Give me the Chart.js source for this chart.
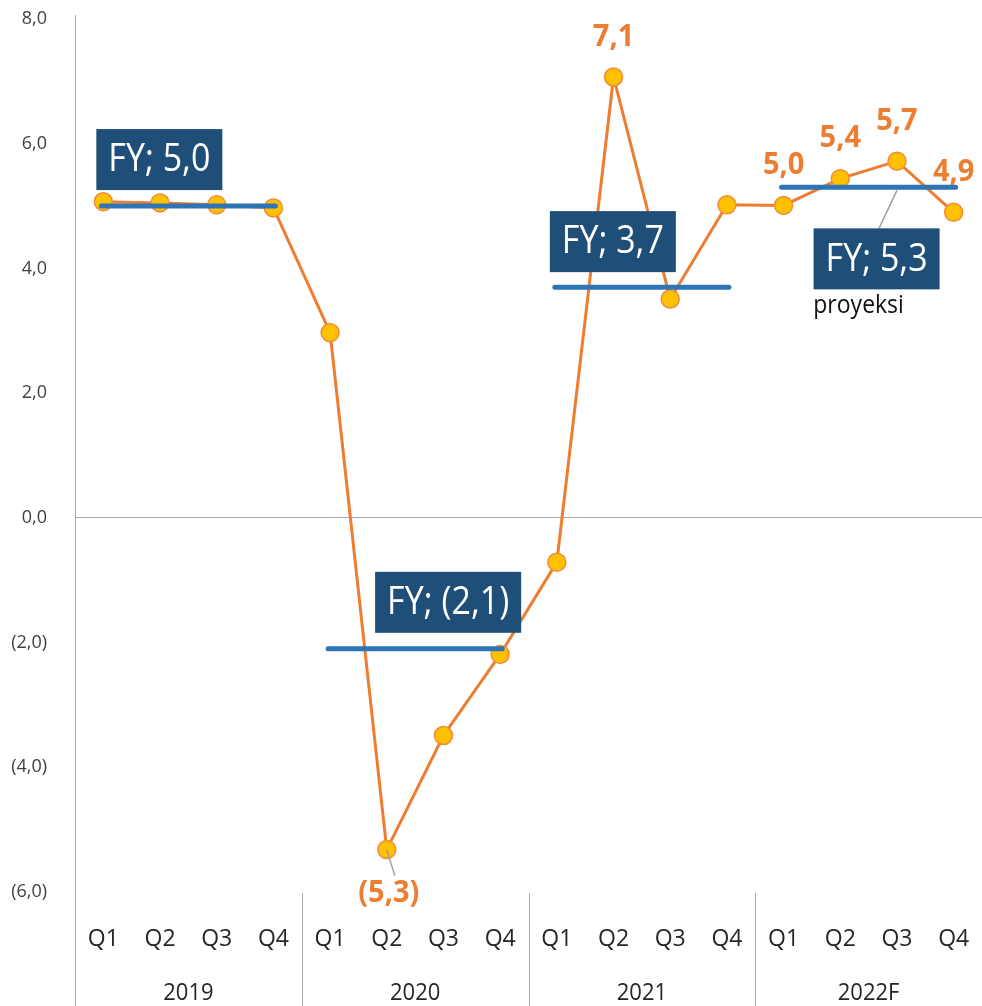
<!DOCTYPE html>
<html>
<head>
<meta charset="utf-8">
<script src="https://cdn.jsdelivr.net/npm/chart.js@4.4.1/dist/chart.umd.min.js"></script>
<style>
  html,body{margin:0;padding:0;background:#fff;overflow:hidden;}
  canvas{display:block;}
</style>
</head>
<body>
<canvas id="chartGdp" width="982" height="1006"></canvas>
<script>
// data
const quarters = ['Q1','Q2','Q3','Q4','Q1','Q2','Q3','Q4','Q1','Q2','Q3','Q4','Q1','Q2','Q3','Q4'];
const years = ['2019','2020','2021','2022F'];
const growth = [5.07,5.05,5.02,4.97, 2.97,-5.32,-3.49,-2.19, -0.71,7.07,3.51,5.02, 5.01,5.44,5.72,4.90];
const pointLabels = [null,null,null,null, null,'(5,3)',null,null, null,'7,1',null,null, '5,0','5,4','5,7','4,9'];
const fyGrowth = [5.0,-2.1,3.7,5.3];
const fyLabels = ['FY; 5,0','FY; (2,1)','FY; 3,7','FY; 5,3'];
const yMin = -6, yMax = 8, yStep = 2;

const FONT = '"Open Sans", "Noto Sans", sans-serif';
const ORANGE = '#ED7D31';

function fmt(v){
    const s = Math.abs(v).toFixed(1).replace('.',',');
    return v < 0 ? '('+s+')' : s;
}

function stretchText(ctx, text, x, y, font, color, sy, align){
    ctx.save();
    ctx.font = font;
    ctx.fillStyle = color;
    ctx.textAlign = align || 'center';
    ctx.textBaseline = 'middle';
    ctx.translate(x, y);
    ctx.scale(1, sy);
    ctx.fillText(text, 0, 0);
    ctx.restore();
}

const annotations = {
    id:'annotations',
    beforeDatasetsDraw(chart){
        const {ctx, scales:{x}, chartArea} = chart;
        ctx.save();
        ctx.strokeStyle = '#A6A6A6';
        ctx.lineWidth = 1;
        // y axis line
        ctx.beginPath();
        ctx.moveTo(chartArea.left+0.5, chartArea.top-4);
        ctx.lineTo(chartArea.left+0.5, chart.height);
        ctx.stroke();
        // year separators
        for(let g=1; g<years.length; g++){
            const sx = Math.round((x.getPixelForValue(g*4-1)+x.getPixelForValue(g*4))/2)+0.5;
            ctx.beginPath();
            ctx.moveTo(sx, chartArea.bottom+1);
            ctx.lineTo(sx, chart.height);
            ctx.stroke();
        }
        ctx.restore();
        // year labels
        years.forEach((yr,g)=>{
            const cx = (x.getPixelForValue(g*4)+x.getPixelForValue(g*4+3))/2;
            stretchText(ctx, yr, cx, chartArea.bottom+101, '22px '+FONT, '#262626', 1.1);
        });
    },
    afterDatasetsDraw(chart){
        const {ctx, scales:{x,y}} = chart;
        const meta = chart.getDatasetMeta(0);

        // FY average lines
        fyGrowth.forEach((v,g)=>{
            const x0 = x.getPixelForValue(g*4)-2, x1 = x.getPixelForValue(g*4+3)+2;
            const ly = y.getPixelForValue(v);
            ctx.save();
            ctx.strokeStyle = '#2E75B6';
            ctx.lineWidth = 5;
            ctx.lineCap = 'round';
            ctx.beginPath();
            ctx.moveTo(x0, ly); ctx.lineTo(x1, ly);
            ctx.stroke();
            ctx.restore();
        });

        // leader lines
        ctx.save();
        ctx.strokeStyle = '#A0A0A0';
        ctx.lineWidth = 1.5;
        const p5 = meta.data[5];
        ctx.beginPath(); ctx.moveTo(p5.x, p5.y); ctx.lineTo(p5.x+8, p5.y+26); ctx.stroke();
        const ly22 = y.getPixelForValue(fyGrowth[3]);
        const lx22 = x.getPixelForValue(14);
        ctx.beginPath(); ctx.moveTo(lx22, ly22+3); ctx.lineTo(lx22-18, ly22+41); ctx.stroke();
        ctx.restore();

        // FY boxes
        const boxFont = '34px '+FONT;
        const boxH = 61;
        fyLabels.forEach((txt,g)=>{
            ctx.save();
            ctx.font = boxFont;
            const w = ctx.measureText(txt).width + 24;
            ctx.restore();
            const ly = y.getPixelForValue(fyGrowth[g]);
            const xq1 = x.getPixelForValue(g*4), xq4 = x.getPixelForValue(g*4+3);
            let left, top;
            if(g===0){ left = xq1-7; top = ly-77; }
            else if(g===1){ left = xq4+21-w; top = ly-77; }
            else if(g===2){ left = xq1-7; top = ly-76; }
            else { left = xq1+30; top = ly+41; }
            ctx.save();
            ctx.fillStyle = '#1F4E79';
            ctx.fillRect(left, top, w, boxH);
            ctx.restore();
            stretchText(ctx, txt, left+w/2, top+boxH/2+1, boxFont, '#ffffff', 1.12);
            if(g===3){
                stretchText(ctx, 'proyeksi', left+45, top+boxH+16, '23px '+FONT, '#111111', 1.1);
            }
        });

        // value labels
        pointLabels.forEach((lab,i)=>{
            if(!lab) return;
            const p = meta.data[i];
            const dy = growth[i] < 0 ? 44 : -40;
            stretchText(ctx, lab, p.x + (i===5?2:0), p.y+dy, 'bold 29px '+FONT, ORANGE, 1.05);
        });
    }
};

const ctxGdp = document.getElementById('chartGdp').getContext('2d');
new Chart(ctxGdp,{
    type:'line',
    data:{
        labels:quarters,
        datasets:[{
            data:growth,
            borderColor:ORANGE,
            borderWidth:3,
            pointRadius:9,
            pointBackgroundColor:'#FFC000',
            pointBorderColor:'#F08C3C',
            pointBorderWidth:1.5,
            tension:0,
            clip:false
        }]
    },
    options:{
        responsive:false,
        animation:false,
        devicePixelRatio:1,
        layout:{autoPadding:false,padding:{top:19,right:0,left:0,bottom:0}},
        plugins:{legend:{display:false},tooltip:{enabled:false}},
        scales:{
            x:{
                offset:true,
                grid:{display:false},
                border:{display:false},
                ticks:{
                    color:'#262626',
                    padding:26,
                    maxRotation:0,
                    autoSkip:false,
                    font:{family:FONT,size:23}
                },
                afterFit:(s)=>{ s.height = 114; s.paddingLeft = 0; s.paddingRight = 0; }
            },
            y:{
                min:yMin,max:yMax,
                ticks:{
                    stepSize:yStep,
                    padding:28,
                    color:'#404040',
                    font:{family:FONT,size:18},
                    callback:(v)=>fmt(v)
                },
                border:{display:false},
                grid:{
                    drawTicks:false,
                    color:(c)=> c.tick && c.tick.value===0 ? '#A6A6A6' : 'rgba(0,0,0,0)',
                    lineWidth:1
                },
                afterFit:(s)=>{ s.width = 75; s.paddingTop = 0; s.paddingBottom = 0; }
            }
        }
    },
    plugins:[annotations]
});
</script>
</body>
</html>
